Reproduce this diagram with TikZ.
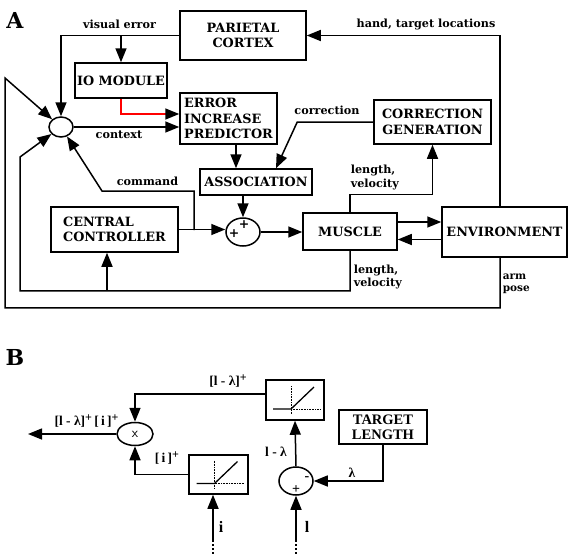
\documentclass[tikz,border=0pt]{standalone}
\usepackage{fontspec}
\newfontfamily\timesfont{Liberation Serif}
\newfontfamily\bookfont{DejaVu Serif}
\usetikzlibrary{arrows.meta,shapes.geometric}

\newcommand{\supplus}{\raisebox{4.5pt}{\fontsize{12}{12}\selectfont +}}

\tikzset{
  box/.style={draw, line width=1.5pt, inner sep=0pt, font=\bookfont\fontsize{12.8}{15.5}\selectfont\bfseries},
  lab/.style={inner sep=0pt, font=\bookfont\fontsize{11.2}{13.5}\selectfont\bfseries},
  blab/.style={inner sep=0pt, font=\timesfont\fontsize{13.5}{14}\selectfont\bfseries},
  panel/.style={inner sep=0pt, font=\bookfont\fontsize{22}{22}\selectfont\bfseries},
  arr/.style={-{Triangle[length=14pt,width=11pt]}},
}

\begin{document}
\begin{tikzpicture}[x=1pt, y=-1pt, line width=1.5pt]
  \useasboundingbox (0,0) rectangle (570,554);

  % panel A
  \node[panel] (lA) at (15,20) {A};
  \node[box, minimum width=126pt, minimum height=49pt, align=center] (parietal) at (243,35.5) {PARIETAL\\CORTEX};
  \node[box, minimum width=92pt, minimum height=35pt] (io) at (121,80.5) {IO MODULE};
  \node[box, minimum width=97pt, minimum height=51pt, align=left] (eip) at (228.5,118.5) {ERROR\\INCREASE\\PREDICTOR};
  \node[box, minimum width=117pt, minimum height=44pt, align=center] (corr) at (432.5,122) {CORRECTION\\GENERATION};
  \node[box, minimum width=112pt, minimum height=26pt] (assoc) at (256,182) {ASSOCIATION};
  \node[box, minimum width=127pt, minimum height=45pt, align=left] (cc) at (114.5,229.5) {CENTRAL\\CONTROLLER};
  \node[box, minimum width=94pt, minimum height=37pt] (muscle) at (350,231.5) {MUSCLE};
  \node[box, minimum width=125pt, minimum height=50pt] (env) at (504.5,232) {ENVIRONMENT};
  \node[draw, ellipse, minimum width=24pt, minimum height=20pt, inner sep=0pt] (ctx) at (61,127) {};
  \node[draw, ellipse, minimum width=34pt, minimum height=28pt, inner sep=0pt] (sum) at (243,232) {};
  \node[inner sep=0pt, font=\bookfont\fontsize{12.5}{12}\selectfont\bfseries] (sumpa) at (234,234) {+};
  \node[inner sep=0pt, font=\bookfont\fontsize{12.5}{12}\selectfont\bfseries] (sumpb) at (244,225) {+};

  \coordinate (cmdsplit) at (194,230);

  \draw[arr] (parietal.west) -| (ctx.north);
  \draw[arr] (io.north |- parietal.west) -- (io.north);
  \draw[red, -{Triangle[length=14pt,width=11pt,fill=black,color=black]}] (io.south) |- ([yshift=4.5pt]eip.west);
  \draw[arr] (ctx.east) -- (ctx.east -| eip.west);
  \draw[arr] ([xshift=7.5pt]eip.south) -- ([xshift=7.5pt]eip.south |- assoc.north);
  \draw[arr] (corr.west) -- ++(-76,0) -- ([xshift=20pt]assoc.north);
  \draw[arr] ([xshift=-13pt]assoc.south) -- (sum.north);
  \draw[arr] (cc.east) -- (cc.east -| sum.west);
  \draw[arr] (cmdsplit) |- (102,191) -- (ctx);
  \draw[arr] (sum.east) -- (sum.east -| muscle.west);
  \draw[arr] ([yshift=9.5pt]muscle.east) -- ([yshift=9.5pt]muscle.east -| env.west);
  \draw[arr] ([yshift=-7.5pt]env.west) -- ([yshift=-7.5pt]env.west -| muscle.east);
  \draw[arr] (muscle.north) -- ++(0,-18) -| (corr.south);
  \draw[arr] (muscle.south) -- ++(0,40) -| (20,157) -- (ctx);
  \draw[arr] ([xshift=-7.5pt]cc.south |- 0,290) -- ([xshift=-7.5pt]cc.south);
  \draw[arr] ([xshift=-4.5pt]env.south) -- ++(0,50) -| (5,78) -- (ctx);
  \draw[arr] ([xshift=-4.5pt]env.north) |- (parietal.east);

  \node[lab] (visual) at (119.5,24) {visual error};
  \node[lab] (context) at (119,135) {context};
  \node[lab] (command) at (147.5,181) {command};
  \node[lab] (correction) at (327,110) {correction};
  \node[lab] (hand) at (426,24) {hand, target locations};
  \node[lab, anchor=west, align=left] (lvup) at (350,177.5) {length,\\velocity};
  \node[lab, anchor=west, align=left] (lvdn) at (353,277) {length,\\velocity};
  \node[lab, anchor=west, align=left, font=\bookfont\fontsize{10.5}{11.5}\selectfont\bfseries] (arm) at (502,284) {arm\\pose};

  % panel B
  \node[panel] (lB) at (15,357) {B};
  \node[draw, ellipse, minimum width=36pt, minimum height=23pt, inner sep=0pt, font=\sffamily\fontsize{14}{14}\selectfont] (mult) at (135,434) {x};
  \node[draw, minimum width=58pt, minimum height=40pt] (rampa) at (295,400) {};
  \node[draw, minimum width=59pt, minimum height=39pt] (rampb) at (218.5,474.5) {};
  \node[draw, ellipse, minimum width=34pt, minimum height=28pt, inner sep=0pt] (sub) at (296,481) {};
  \node[inner sep=0pt, font=\timesfont\fontsize{14}{14}\selectfont\bfseries] (subm) at (307,479) {-};
  \node[inner sep=0pt, font=\timesfont\fontsize{14}{14}\selectfont\bfseries] (subp) at (296,490) {+};
  \node[draw, inner sep=0pt, minimum width=88pt, minimum height=34pt, align=center, font=\timesfont\fontsize{14.5}{15}\selectfont\bfseries] (target) at (383,427) {TARGET\\LENGTH};

  \foreach \r in {rampa,rampb}{
    \begin{scope}[shift={(\r.center)}]
      \draw[line width=1.3pt] (-22,9) -- (-4,9) -- (19,-13);
      \draw[line width=0.6pt, densely dotted] (-4,-14) -- (-4,14);
      \draw[line width=0.6pt, densely dotted] (-4,9) -- (26,9);
    \end{scope}
  }

  \coordinate (out) at (28,434);
  \coordinate (iin) at (213,540);
  \coordinate (lin) at (296,540);

  \draw[arr] (mult.west) -- (out);
  \draw[arr] ([yshift=6pt]rampa.west) -| (mult.north);
  \draw[arr] (rampb.west) -| (mult.south);
  \draw[arr] (iin) -- (iin |- rampb.south);
  \draw[arr] (lin) -- (sub.south);
  \draw[arr] (sub.north) -- (rampa.south);
  \draw[arr] (target.south) |- (sub.east);
  \draw[line width=1.8pt, dash pattern=on 1.8pt off 2.2pt] (iin) -- ++(0,14);
  \draw[line width=1.8pt, dash pattern=on 1.8pt off 2.2pt] (lin) -- ++(0,14);

  \node[blab] (outlab) at (86.5,421) {[l - λ]\supplus\,[\,i\,]\supplus};
  \node[blab] (lamplus) at (228,381) {[l - λ]\supplus};
  \node[blab] (iplus) at (167,458) {[\,i\,]\supplus};
  \node[blab] (onelam) at (276,452) {l - λ};
  \node[blab] (lam) at (352,473) {λ};
  \node[blab, font=\timesfont\fontsize{16}{16}\selectfont\bfseries] (ilab) at (221,527) {i};
  \node[blab, font=\timesfont\fontsize{16}{16}\selectfont\bfseries] (llab) at (307,527) {l};
\end{tikzpicture}
\end{document}
